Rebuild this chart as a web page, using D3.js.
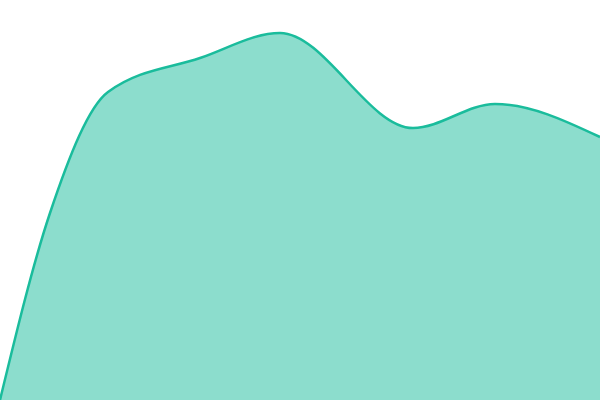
<!DOCTYPE html>
<html>
<head>
<meta charset="utf-8">
<script src="https://cdn.jsdelivr.net/npm/d3@7"></script>
<style>
  body { margin: 0; background: #fff; }
  svg { display: block; }
</style>
</head>
<body>
<svg class="chart" width="600" height="400"></svg>
<script>
// positions along the x axis and the value at each one
const xs = [0, 50, 108, 200, 280, 413, 495, 600]
const values = [0, 187, 308, 342, 367, 272, 296, 263]

const svg = d3.select('.chart'),
  width = 600,
  height = 400

const data = xs.map((x, i) => ({ x: x, v: values[i] }))

let x = d3.scaleLinear().domain([0, 600]).range([0, width]),
  y = d3.scaleLinear().domain([0, 400]).range([height, 0])

const area = d3.area()
  .curve(d3.curveMonotoneX)
  .x(d => x(d.x))
  .y0(height)
  .y1(d => y(d.v))

const line = d3.line()
  .curve(d3.curveMonotoneX)
  .x(d => x(d.x))
  .y(d => y(d.v))

svg.append('path')
  .datum(data)
  .attr('d', area)
  .attr('fill', '#1abc9c')
  .attr('fill-opacity', 0.5)

svg.append('path')
  .datum(data)
  .attr('d', line)
  .attr('fill', 'none')
  .attr('stroke', '#1abc9c')
  .attr('stroke-width', 2.5)
</script>
</body>
</html>
